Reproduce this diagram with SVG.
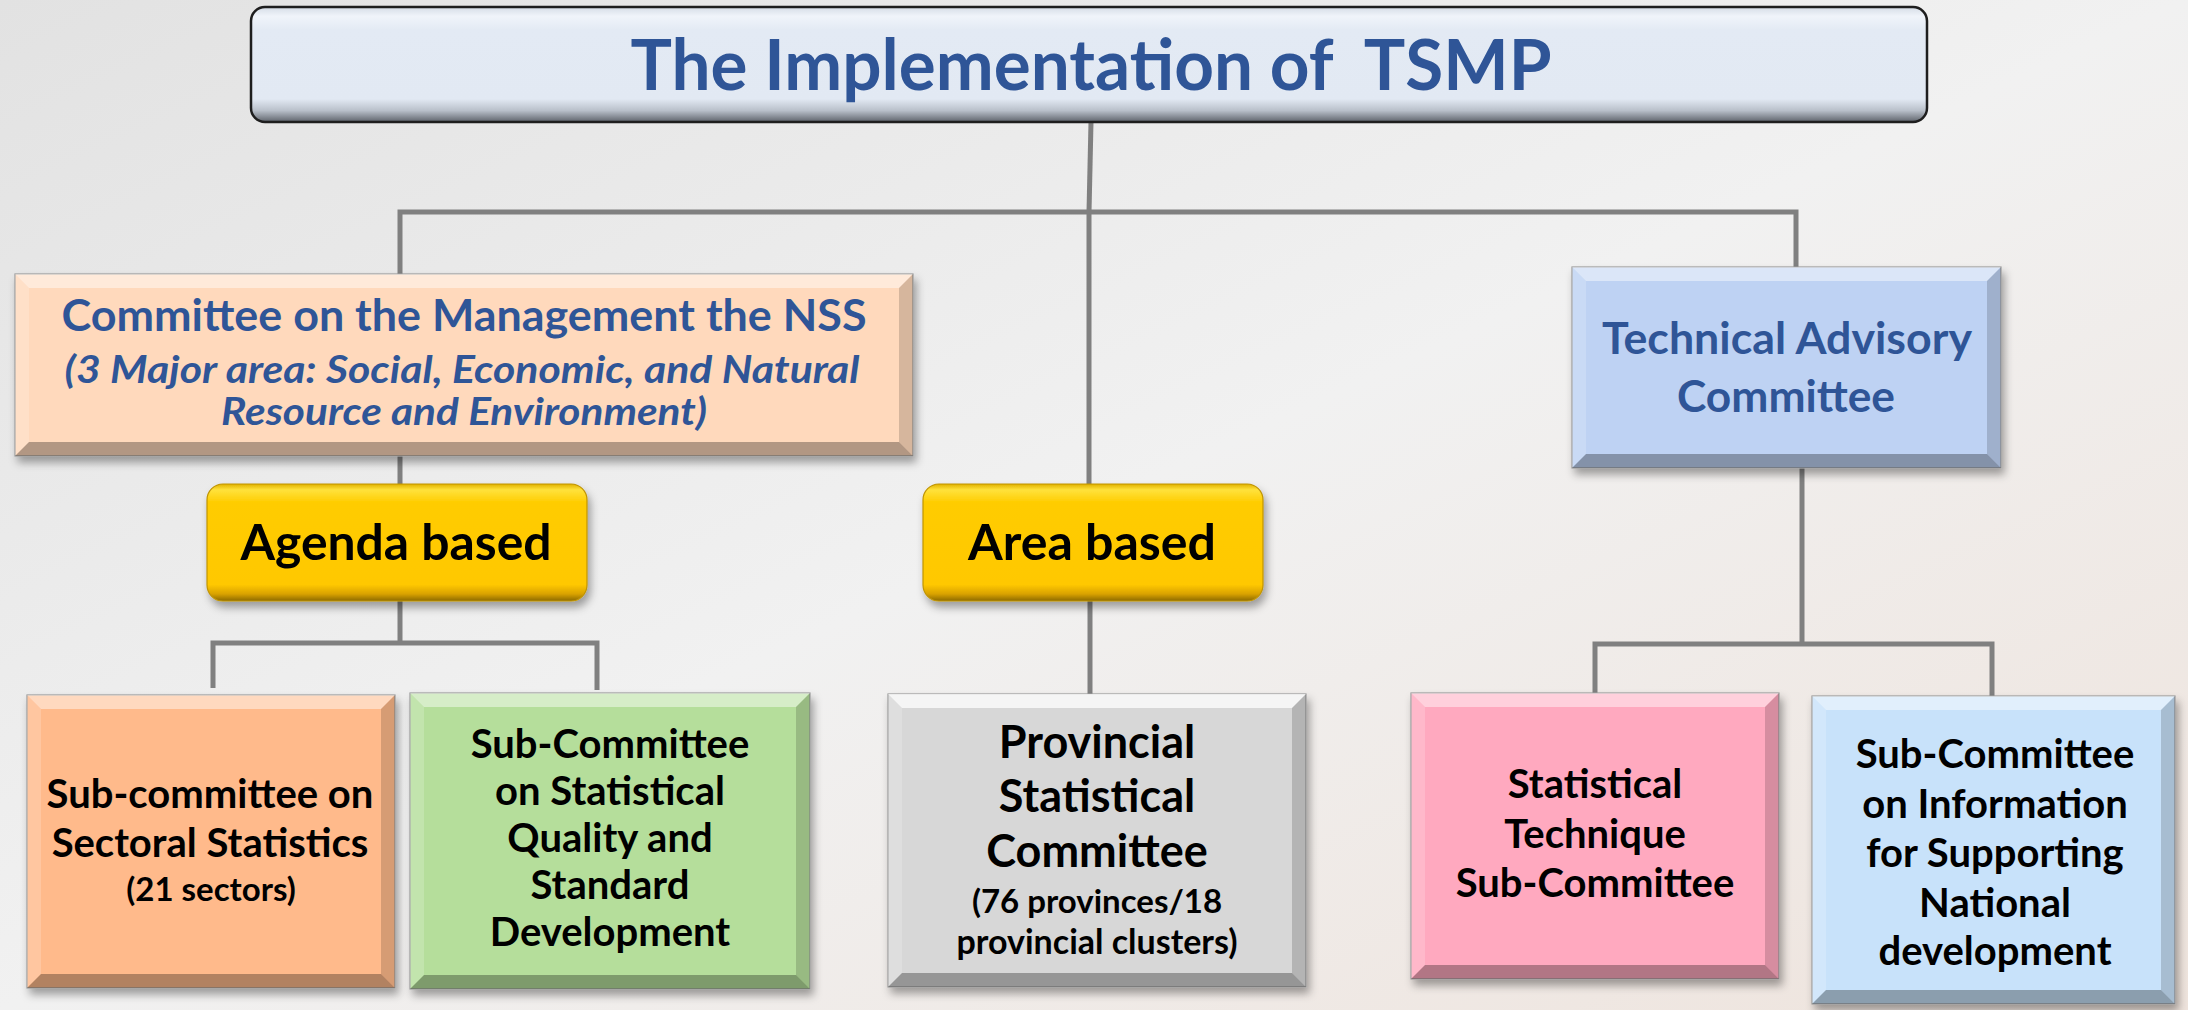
<svg xmlns="http://www.w3.org/2000/svg" width="2188" height="1010" viewBox="0 0 2188 1010">
<defs>
<linearGradient id="bg" x1="0" y1="0" x2="1" y2="1">
<stop offset="0" stop-color="#E2E2E2"/>
<stop offset="0.5" stop-color="#F1F1F1"/>
<stop offset="1" stop-color="#EEE3DC"/>
</linearGradient>
<linearGradient id="titleFill" x1="0" y1="0" x2="0" y2="1">
<stop offset="0" stop-color="#D5DCE6"/>
<stop offset="0.08" stop-color="#F0F4FA"/>
<stop offset="0.2" stop-color="#E3EAF4"/>
<stop offset="0.8" stop-color="#E2E9F3"/>
<stop offset="0.9" stop-color="#B9C0CA"/>
<stop offset="1" stop-color="#5E636B"/>
</linearGradient>
<linearGradient id="yellow" x1="0" y1="0" x2="0" y2="1">
<stop offset="0" stop-color="#E0B000"/>
<stop offset="0.05" stop-color="#FFE23C"/>
<stop offset="0.16" stop-color="#FFCC00"/>
<stop offset="0.86" stop-color="#FFC800"/>
<stop offset="0.94" stop-color="#D9A200"/>
<stop offset="1" stop-color="#8C6A00"/>
</linearGradient>
<filter id="shadow" x="-10%" y="-10%" width="120%" height="125%">
<feDropShadow dx="3" dy="6" stdDeviation="4" flood-color="#000" flood-opacity="0.35"/>
</filter>
</defs>
<style>
.conn{stroke:#808080;stroke-width:5;fill:none;stroke-linecap:butt}
.hl{fill:#FFFFFF;opacity:0.45}
.hl2{fill:#FFFFFF;opacity:0.18}
.sh{fill:#000000;opacity:0.16}
.sh2{fill:#000000;opacity:0.3}
.box{stroke:#9A9A9A;stroke-width:1.2}
.blue{font-family:Lato,"Open Sans","Liberation Sans",sans-serif;font-weight:bold;fill:#2F5597;text-anchor:middle}
.blk{font-family:Lato,"Open Sans","Liberation Sans",sans-serif;font-weight:bold;fill:#000000;text-anchor:middle}
</style>
<rect x="0" y="0" width="2188" height="1010" fill="url(#bg)"/>

<g id="connectors">
<line class="conn" x1="1091" y1="122" x2="1089" y2="212"/>
<polyline class="conn" points="400,274 400,212 1796,212 1796,267"/>
<line class="conn" x1="1089" y1="212" x2="1089" y2="484"/>
<line class="conn" x1="1090" y1="600" x2="1090" y2="694"/>
<line class="conn" x1="400" y1="456" x2="400" y2="484"/>
<line class="conn" x1="400" y1="600" x2="400" y2="643"/>
<polyline class="conn" points="213,688 213,643 597,643 597,690"/>
<line class="conn" x1="1802" y1="468" x2="1802" y2="644"/>
<polyline class="conn" points="1595,693 1595,644 1992,644 1992,696"/>
</g>

<g id="title">
<rect x="251" y="7" width="1676" height="115" rx="14" fill="url(#titleFill)" stroke="#1E1E1E" stroke-width="2.5"/>
<text class="blue" x="1091" y="90" font-size="70" textLength="921" lengthAdjust="spacingAndGlyphs">The Implementation of&#160; TSMP</text>
</g>

<g id="cmnss">
<g filter="url(#shadow)">
<rect class="box" x="15" y="274" width="898" height="182" fill="#FFD9BC"/>
</g>
<polygon class="hl" points="15,274 913,274 899,288 29,288"/>
<polygon class="hl2" points="15,274 29,288 29,442 15,456"/>
<polygon class="sh" points="913,274 913,456 899,442 899,288"/>
<polygon class="sh2" points="15,456 29,442 899,442 913,456"/>
<text class="blue" x="464" y="331" font-size="43" textLength="805" lengthAdjust="spacingAndGlyphs">Committee on the Management the NSS</text>
<text class="blue" x="462" y="383" font-size="38" font-style="italic" textLength="795" lengthAdjust="spacingAndGlyphs">(3 Major area: Social, Economic, and Natural</text>
<text class="blue" x="464" y="425" font-size="38" font-style="italic" textLength="486" lengthAdjust="spacingAndGlyphs">Resource and Environment)</text>
</g>

<g id="tac">
<g filter="url(#shadow)">
<rect class="box" x="1572" y="267" width="429" height="201" fill="#BED2F3"/>
</g>
<polygon class="hl" points="1572,267 2001,267 1987,281 1586,281"/>
<polygon class="hl2" points="1572,267 1586,281 1586,454 1572,468"/>
<polygon class="sh" points="2001,267 2001,468 1987,454 1987,281"/>
<polygon class="sh2" points="1572,468 1586,454 1987,454 2001,468"/>
<text class="blue" x="1787" y="354" font-size="44" textLength="370" lengthAdjust="spacingAndGlyphs">Technical Advisory</text>
<text class="blue" x="1786" y="412" font-size="44" textLength="218" lengthAdjust="spacingAndGlyphs">Committee</text>
</g>

<g id="agenda">
<rect x="207" y="484" width="380" height="117" rx="16" fill="url(#yellow)" stroke="#C09400" stroke-width="1.2" filter="url(#shadow)"/>
<text class="blk" x="396" y="560" font-size="50" textLength="311" lengthAdjust="spacingAndGlyphs">Agenda based</text>
</g>

<g id="area">
<rect x="923" y="484" width="340" height="117" rx="16" fill="url(#yellow)" stroke="#C09400" stroke-width="1.2" filter="url(#shadow)"/>
<text class="blk" x="1092" y="560" font-size="50" textLength="248" lengthAdjust="spacingAndGlyphs">Area based</text>
</g>

<g id="sectoral">
<g filter="url(#shadow)">
<rect class="box" x="27" y="695" width="368" height="293" fill="#FFBA8B"/>
</g>
<polygon class="hl" points="27,695 395,695 381,709 41,709"/>
<polygon class="hl2" points="27,695 41,709 41,974 27,988"/>
<polygon class="sh" points="395,695 395,988 381,974 381,709"/>
<polygon class="sh2" points="27,988 41,974 381,974 395,988"/>
<text class="blk" x="210" y="808" font-size="40">Sub-committee on</text>
<text class="blk" x="210" y="857" font-size="40">Sectoral Statistics</text>
<text class="blk" x="211" y="901" font-size="33">(21 sectors)</text>
</g>

<g id="quality">
<g filter="url(#shadow)">
<rect class="box" x="410" y="693" width="400" height="296" fill="#B5DE9B"/>
</g>
<polygon class="hl" points="410,693 810,693 796,707 424,707"/>
<polygon class="hl2" points="410,693 424,707 424,975 410,989"/>
<polygon class="sh" points="810,693 810,989 796,975 796,707"/>
<polygon class="sh2" points="410,989 424,975 796,975 810,989"/>
<text class="blk" x="610" y="758" font-size="40">Sub-Committee</text>
<text class="blk" x="610" y="805" font-size="40">on Statistical</text>
<text class="blk" x="610" y="852" font-size="40">Quality and</text>
<text class="blk" x="610" y="899" font-size="40">Standard</text>
<text class="blk" x="610" y="946" font-size="40">Development</text>
</g>

<g id="provincial">
<g filter="url(#shadow)">
<rect class="box" x="888" y="694" width="418" height="293" fill="#D7D7D7"/>
</g>
<polygon class="hl" points="888,694 1306,694 1292,708 902,708" style="opacity:0.75"/>
<polygon class="hl2" points="888,694 902,708 902,973 888,987"/>
<polygon class="sh" points="1306,694 1306,987 1292,973 1292,708"/>
<polygon class="sh2" points="888,987 902,973 1292,973 1306,987"/>
<text class="blk" x="1097" y="758" font-size="45">Provincial</text>
<text class="blk" x="1097" y="812" font-size="45">Statistical</text>
<text class="blk" x="1097" y="867" font-size="45">Committee</text>
<text class="blk" x="1097" y="913" font-size="33">(76 provinces/18</text>
<text class="blk" x="1097" y="954" font-size="34">provincial clusters)</text>
</g>

<g id="technique">
<g filter="url(#shadow)">
<rect class="box" x="1411" y="693" width="368" height="286" fill="#FFA9BF"/>
</g>
<polygon class="hl" points="1411,693 1779,693 1765,707 1425,707"/>
<polygon class="hl2" points="1411,693 1425,707 1425,965 1411,979"/>
<polygon class="sh" points="1779,693 1779,979 1765,965 1765,707"/>
<polygon class="sh2" points="1411,979 1425,965 1765,965 1779,979"/>
<text class="blk" x="1595" y="798" font-size="40">Statistical</text>
<text class="blk" x="1595" y="848" font-size="40">Technique</text>
<text class="blk" x="1595" y="897" font-size="40">Sub-Committee</text>
</g>

<g id="information">
<g filter="url(#shadow)">
<rect class="box" x="1812" y="696" width="363" height="308" fill="#C8E2FA"/>
</g>
<polygon class="hl" points="1812,696 2175,696 2161,710 1826,710"/>
<polygon class="hl2" points="1812,696 1826,710 1826,990 1812,1004"/>
<polygon class="sh" points="2175,696 2175,1004 2161,990 2161,710"/>
<polygon class="sh2" points="1812,1004 1826,990 2161,990 2175,1004"/>
<text class="blk" x="1995" y="768" font-size="40">Sub-Committee</text>
<text class="blk" x="1995" y="818" font-size="40">on Information</text>
<text class="blk" x="1995" y="867" font-size="40">for Supporting</text>
<text class="blk" x="1995" y="917" font-size="40">National</text>
<text class="blk" x="1995" y="965" font-size="40">development</text>
</g>
</svg>
